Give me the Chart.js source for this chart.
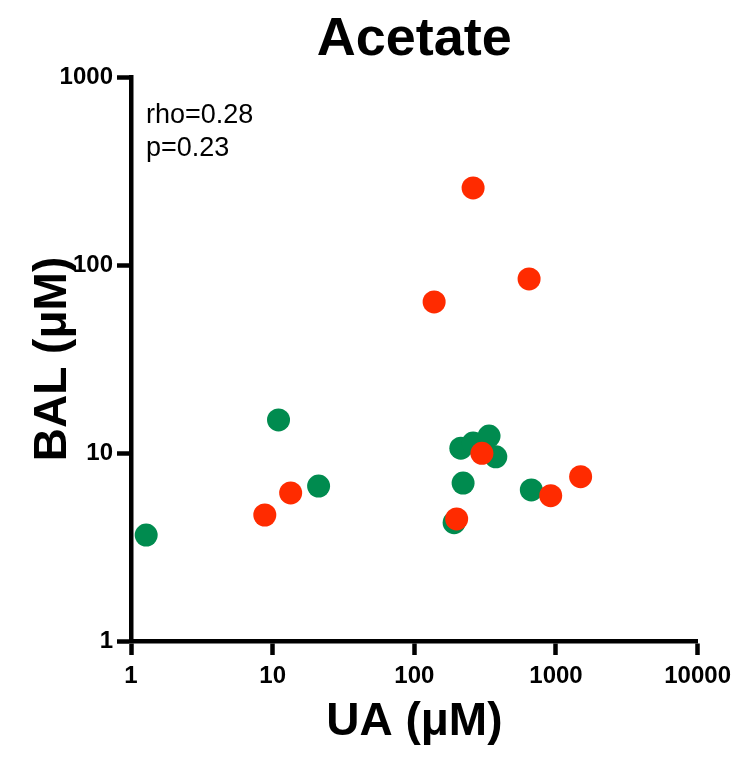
<!DOCTYPE html>
<html>
<head>
<meta charset="utf-8">
<script src="https://cdn.jsdelivr.net/npm/chart.js@4/dist/chart.umd.min.js"></script>
<style>
    html, body { margin: 0; padding: 0; background: #fff; }
    canvas { display: block; }
</style>
</head>
<body>
<canvas id="chart" width="738" height="758"></canvas>
<script>
// data (UA vs BAL, µM)
const greenUA  = [1.28, 11.0, 21.1, 213, 260, 337, 376, 221, 191, 670];
const greenBAL = [3.66, 15.0, 6.67, 10.6, 11.3, 12.3, 9.55, 6.92, 4.26, 6.36];
const redUA  = [8.8, 13.4, 138, 260, 646, 300, 199, 918, 1493];
const redBAL = [4.68, 6.13, 63.6, 257, 84.3, 9.96, 4.46, 5.93, 7.48];

const xTicks = [1, 10, 100, 1000, 10000];
const yTicks = [1, 10, 100, 1000];

const chartTitle = 'Acetate';
const statsLines = ['rho=0.28', 'p=0.23'];

const FONT = '"Liberation Sans", Arial, Helvetica, sans-serif';

function toPoints(xs, ys) {
    return xs.map(function(x, i) { return { x: x, y: ys[i] }; });
}

// 标题和统计文字
const textPlugin = {
    id: 'textPlugin',
    afterDraw: function(chart) {
        const ctx = chart.ctx;
        const area = chart.chartArea;
        ctx.save();
        ctx.fillStyle = '#000';
        ctx.textAlign = 'center';
        ctx.textBaseline = 'alphabetic';
        ctx.font = 'bold 54px ' + FONT;
        ctx.fillText(chartTitle, (area.left + area.right) / 2, 55);

        ctx.textAlign = 'left';
        ctx.font = '27px ' + FONT;
        statsLines.forEach(function(line, i) {
            ctx.fillText(line, area.left + 15, 123 + i * 33);
        });
        ctx.restore();
    }
};

const axisCommon = {
    type: 'logarithmic',
    grid: {
        display: true,
        drawOnChartArea: false,
        drawTicks: true,
        tickLength: 14,
        tickWidth: 4.5,
        tickColor: '#000'
    },
    border: { display: true, color: '#000', width: 4.5 }
};

new Chart(document.getElementById('chart'), {
    type: 'scatter',
    data: {
        // 第一个数据集画在最上面
        datasets: [
            {
                label: 'red',
                data: toPoints(redUA, redBAL),
                backgroundColor: '#FF2B00',
                borderWidth: 0,
                pointRadius: 11.5,
                pointHoverRadius: 11.5
            },
            {
                label: 'green',
                data: toPoints(greenUA, greenBAL),
                backgroundColor: '#008B4F',
                borderWidth: 0,
                pointRadius: 11.5,
                pointHoverRadius: 11.5
            }
        ]
    },
    options: {
        responsive: false,
        animation: false,
        layout: { padding: { top: 77, right: 39, left: 0, bottom: 0 } },
        plugins: {
            legend: { display: false },
            tooltip: { enabled: false }
        },
        scales: {
            x: Object.assign({}, axisCommon, {
                min: 1,
                max: 10000,
                afterBuildTicks: function(scale) {
                    scale.ticks = xTicks.map(function(v) { return { value: v, major: true }; });
                },
                afterFit: function(scale) { scale.height = 117; },
                ticks: {
                    autoSkip: false,
                    maxRotation: 0,
                    padding: 7,
                    color: '#000',
                    font: { family: FONT, size: 24, weight: 'bold' },
                    callback: function(v) { return String(v); }
                },
                title: {
                    display: true,
                    text: 'UA (μM)',
                    color: '#000',
                    font: { family: FONT, size: 46, weight: 'bold' },
                    padding: { top: 0, bottom: 8 }
                }
            }),
            y: Object.assign({}, axisCommon, {
                min: 1,
                max: 1000,
                afterBuildTicks: function(scale) {
                    scale.ticks = yTicks.map(function(v) { return { value: v, major: true }; });
                },
                afterFit: function(scale) { scale.width = 131; },
                ticks: {
                    autoSkip: false,
                    padding: 4,
                    color: '#000',
                    font: { family: FONT, size: 24, weight: 'bold' },
                    callback: function(v) { return String(v); }
                },
                title: {
                    display: true,
                    text: 'BAL (μM)',
                    color: '#000',
                    font: { family: FONT, size: 46, weight: 'bold' },
                    padding: { top: 26, bottom: 0 }
                }
            })
        }
    },
    plugins: [textPlugin]
});
</script>
</body>
</html>
